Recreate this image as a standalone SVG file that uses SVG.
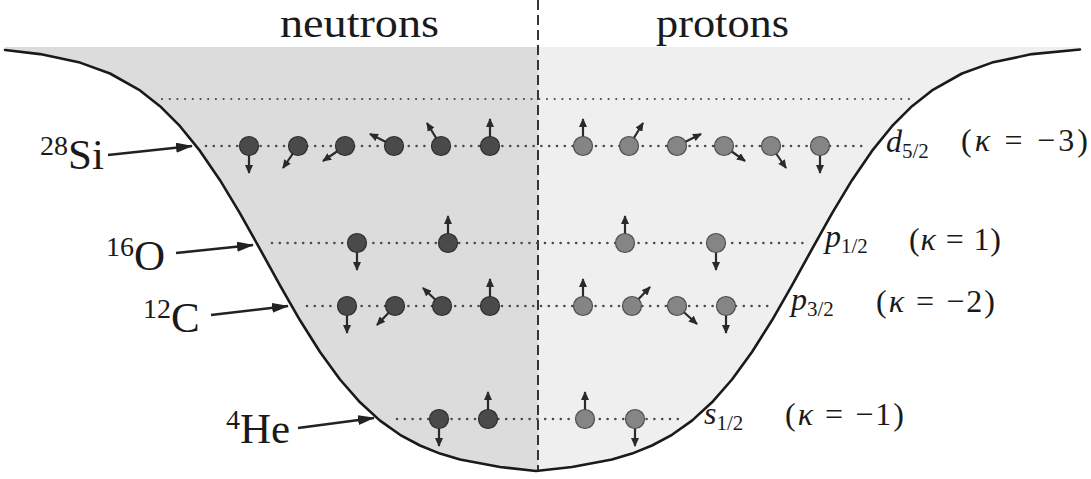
<svg xmlns="http://www.w3.org/2000/svg" width="1091" height="479" viewBox="0 0 1091 479">
<defs>
<marker id="spin" markerUnits="userSpaceOnUse" markerWidth="9" markerHeight="8" refX="8" refY="4" orient="auto"><path d="M0,0 L9,4 L0,8 z" fill="#2a2a2a"/></marker>
<marker id="big" markerUnits="userSpaceOnUse" markerWidth="17" markerHeight="10" refX="16" refY="5" orient="auto"><path d="M0,0 L17,5 L0,10 z" fill="#222"/></marker>
</defs>
<style>
.serif{font-family:"Liberation Serif","DejaVu Serif",serif;fill:#1a1a1a}
.it{font-style:italic}
.row{stroke:#4a4a4a;stroke-width:2.6;stroke-linecap:round;stroke-dasharray:0 7.8;fill:none}
.top{stroke:#4a4a4a;stroke-width:2.2;stroke-linecap:round;stroke-dasharray:0 7.7;fill:none}
.sp{stroke:#2a2a2a;stroke-width:2.2;marker-end:url(#spin)}
.n{fill:#4a4a4a;stroke:#2e2e2e;stroke-width:1.2}
.p{fill:#858585;stroke:#4e4e4e;stroke-width:1.2}
.arr{stroke:#222;stroke-width:2.6;marker-end:url(#big)}
</style>
<rect width="1091" height="479" fill="#fff"/>
<g id="well">
<polygon points="5,47 5,50 40,54.1 80,62.6 110,73.5 140,90.4 160,106.2 180,126.2 200,150.9 220,180.2 240,213.3 260,249.1 280,285.4 300,320.3 320,352 340,379.5 360,402.3 380,420.6 400,434.8 420,445.5 440,453.6 460,459.5 500,467 536,471 538,471 538,47" fill="#dcdcdc"/>
<polygon points="538,47 538,471 572,467 612,459.5 632,453.6 652,445.5 672,434.8 692,420.6 712,402.3 732,379.5 752,352 772,320.3 792,285.4 812,249.1 832,213.3 852,180.2 872,150.9 892,126.2 912,106.2 932,90.4 962,73.5 992,62.6 1032,54.1 1080,49.5 1080,47" fill="#efefef"/>
<polyline points="5,50 40,54.1 80,62.6 110,73.5 140,90.4 160,106.2 180,126.2 200,150.9 220,180.2 240,213.3 260,249.1 280,285.4 300,320.3 320,352 340,379.5 360,402.3 380,420.6 400,434.8 420,445.5 440,453.6 460,459.5 500,467 536,471 572,467 612,459.5 632,453.6 652,445.5 672,434.8 692,420.6 712,402.3 732,379.5 752,352 772,320.3 792,285.4 812,249.1 832,213.3 852,180.2 872,150.9 892,126.2 912,106.2 932,90.4 962,73.5 992,62.6 1032,54.1 1080,49.5" fill="none" stroke="#1a1a1a" stroke-width="2.6" stroke-linejoin="round" stroke-linecap="round"/>
<line x1="538" y1="0" x2="538" y2="471" stroke="#222" stroke-width="1.8" stroke-dasharray="10 5"/>
</g>
<g id="levels">
<line class="top" x1="162" y1="99" x2="914" y2="99"/>
<line class="row" x1="206" y1="146" x2="868" y2="146"/>
<line class="row" x1="272" y1="243" x2="803" y2="243"/>
<line class="row" x1="307" y1="306" x2="768" y2="306"/>
<line class="row" x1="397" y1="419" x2="681" y2="419"/>
</g>
<g id="titles">
<text class="serif" x="280" y="37" font-size="40" textLength="159" lengthAdjust="spacingAndGlyphs">neutrons</text>
<text class="serif" x="656" y="37" font-size="40" textLength="133" lengthAdjust="spacingAndGlyphs">protons</text>
</g>
<g id="connectors">
<line class="arr" x1="108" y1="155" x2="192" y2="146"/>
<line class="arr" x1="176" y1="253" x2="253" y2="245"/>
<line class="arr" x1="211" y1="315" x2="288" y2="306"/>
<line class="arr" x1="298" y1="428" x2="374" y2="418"/>
</g>
<g id="label-si"><text class="serif" x="40" y="169"><tspan font-size="28" dy="-14">28</tspan><tspan font-size="43" dy="14">Si</tspan></text></g>
<g id="label-o"><text class="serif" x="106" y="270"><tspan font-size="28" dy="-14">16</tspan><tspan font-size="43" dy="14">O</tspan></text></g>
<g id="label-c"><text class="serif" x="143" y="332"><tspan font-size="28" dy="-14">12</tspan><tspan font-size="43" dy="14">C</tspan></text></g>
<g id="label-he"><text class="serif" x="226" y="443"><tspan font-size="28" dy="-14">4</tspan><tspan font-size="43" dy="14">He</tspan></text></g>
<g id="shell-d52">
<line class="sp" x1="249" y1="146" x2="249" y2="173"/><circle class="n" cx="249" cy="146" r="9.5"/>
<line class="sp" x1="298" y1="146" x2="283" y2="168"/><circle class="n" cx="298" cy="146" r="9.5"/>
<line class="sp" x1="345" y1="146" x2="323" y2="161"/><circle class="n" cx="345" cy="146" r="9.5"/>
<line class="sp" x1="394" y1="146" x2="370" y2="134"/><circle class="n" cx="394" cy="146" r="9.5"/>
<line class="sp" x1="441" y1="146" x2="427" y2="123"/><circle class="n" cx="441" cy="146" r="9.5"/>
<line class="sp" x1="490" y1="146" x2="490" y2="119"/><circle class="n" cx="490" cy="146" r="9.5"/>
<line class="sp" x1="583" y1="146" x2="583" y2="119"/><circle class="p" cx="583" cy="146" r="9.5"/>
<line class="sp" x1="629" y1="146" x2="643" y2="123"/><circle class="p" cx="629" cy="146" r="9.5"/>
<line class="sp" x1="677" y1="146" x2="701" y2="134"/><circle class="p" cx="677" cy="146" r="9.5"/>
<line class="sp" x1="724" y1="146" x2="745" y2="161"/><circle class="p" cx="724" cy="146" r="9.5"/>
<line class="sp" x1="771" y1="146" x2="786" y2="168"/><circle class="p" cx="771" cy="146" r="9.5"/>
<line class="sp" x1="820" y1="146" x2="820" y2="173"/><circle class="p" cx="820" cy="146" r="9.5"/>
<text class="serif" x="886" y="152"><tspan class="it" font-size="32">d</tspan><tspan font-size="21" dy="6">5/2</tspan></text>
<text class="serif" x="961" y="151" font-size="32" textLength="127" lengthAdjust="spacing">(<tspan class="it">κ</tspan> = −3)</text>
</g>
<g id="shell-p12">
<line class="sp" x1="357" y1="243" x2="357" y2="270"/><circle class="n" cx="357" cy="243" r="9.5"/>
<line class="sp" x1="448" y1="243" x2="448" y2="216"/><circle class="n" cx="448" cy="243" r="9.5"/>
<line class="sp" x1="625" y1="243" x2="625" y2="216"/><circle class="p" cx="625" cy="243" r="9.5"/>
<line class="sp" x1="716" y1="243" x2="716" y2="270"/><circle class="p" cx="716" cy="243" r="9.5"/>
<text class="serif" x="825" y="247"><tspan class="it" font-size="32">p</tspan><tspan font-size="21" dy="6">1/2</tspan></text>
<text class="serif" x="909" y="250" font-size="32" textLength="92" lengthAdjust="spacing">(<tspan class="it">κ</tspan> = 1)</text>
</g>
<g id="shell-p32">
<line class="sp" x1="347" y1="306" x2="347" y2="333"/><circle class="n" cx="347" cy="306" r="9.5"/>
<line class="sp" x1="395" y1="306" x2="377" y2="325"/><circle class="n" cx="395" cy="306" r="9.5"/>
<line class="sp" x1="442" y1="306" x2="423" y2="288"/><circle class="n" cx="442" cy="306" r="9.5"/>
<line class="sp" x1="490" y1="306" x2="490" y2="279"/><circle class="n" cx="490" cy="306" r="9.5"/>
<line class="sp" x1="583" y1="306" x2="583" y2="279"/><circle class="p" cx="583" cy="306" r="9.5"/>
<line class="sp" x1="632" y1="306" x2="650" y2="287"/><circle class="p" cx="632" cy="306" r="9.5"/>
<line class="sp" x1="677" y1="306" x2="697" y2="324"/><circle class="p" cx="677" cy="306" r="9.5"/>
<line class="sp" x1="726" y1="306" x2="726" y2="333"/><circle class="p" cx="726" cy="306" r="9.5"/>
<text class="serif" x="791" y="310"><tspan class="it" font-size="32">p</tspan><tspan font-size="21" dy="6">3/2</tspan></text>
<text class="serif" x="876" y="312" font-size="32" textLength="119" lengthAdjust="spacing">(<tspan class="it">κ</tspan> = −2)</text>
</g>
<g id="shell-s12">
<line class="sp" x1="439" y1="419" x2="439" y2="446"/><circle class="n" cx="439" cy="419" r="9.5"/>
<line class="sp" x1="488" y1="419" x2="488" y2="392"/><circle class="n" cx="488" cy="419" r="9.5"/>
<line class="sp" x1="585" y1="419" x2="585" y2="392"/><circle class="p" cx="585" cy="419" r="9.5"/>
<line class="sp" x1="635" y1="419" x2="635" y2="446"/><circle class="p" cx="635" cy="419" r="9.5"/>
<text class="serif" x="704" y="424"><tspan class="it" font-size="32">s</tspan><tspan font-size="21" dy="6">1/2</tspan></text>
<text class="serif" x="785" y="425" font-size="32" textLength="119" lengthAdjust="spacing">(<tspan class="it">κ</tspan> = −1)</text>
</g>
</svg>
